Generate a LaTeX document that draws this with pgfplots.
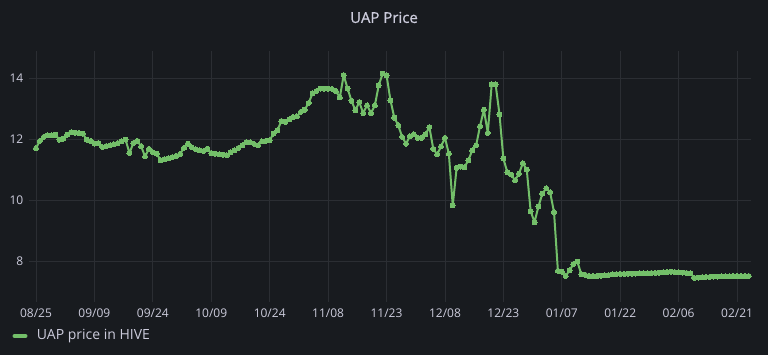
\documentclass[border=0pt]{standalone}
\usepackage{fontspec}
\setmainfont{Open Sans}
\newfontfamily\titlefont{Open Sans}[FakeBold=0.8]
\usepackage{pgfplots}
\pgfplotsset{compat=1.18}
\definecolor{bg}{HTML}{181B1F}
\definecolor{gridc}{HTML}{2B2E33}
\definecolor{txt}{HTML}{CCCCDC}
\definecolor{grn}{HTML}{73BF69}
\begin{document}
\begin{tikzpicture}
\fill[bg] (0pt,0pt) rectangle (768pt,355pt);
\node[txt, font=\titlefont\fontsize{15}{16}\selectfont] at (384pt,337.5pt) {UAP Price};
\begin{axis}[
  at={(29.3pt,53pt)}, anchor=south west, scale only axis,
  width=721.4pt, height=251pt,
  xmin=-1.72, xmax=183.5, ymin=6.68, ymax=14.89,
  axis line style={draw=none}, tick style={draw=none},
  grid=major, grid style={gridc, line width=0.8pt},
  xtick={0,15,...,180},
  xticklabels={08/25,09/09,09/24,10/09,10/24,11/08,11/23,12/08,12/23,01/07,01/22,02/06,02/21},
  ytick={8,10,12,14},
  /pgf/number format/assume math mode=true,
  tick label style={text=txt, font=\fontsize{12}{14}\selectfont},
  yticklabel style={anchor=east, inner sep=0pt, xshift=-5.8pt},
  xticklabel style={anchor=north, inner sep=0pt, yshift=-6.5pt},
]
\addplot[grn, line width=2pt, line join=round, mark=*, mark size=2.5pt, mark options={draw=grn, fill=grn, line width=0pt}] table {
x y
0 11.71
1 11.95
2 12.08
3 12.13
4 12.13
5 12.15
6 11.99
7 12.02
8 12.15
9 12.23
10 12.22
11 12.21
12 12.19
13 11.99
14 11.95
15 11.86
16 11.88
17 11.75
18 11.78
19 11.80
20 11.84
21 11.88
22 11.93
23 11.99
24 11.55
25 11.88
26 11.95
27 11.77
28 11.44
29 11.69
30 11.58
31 11.53
32 11.31
33 11.35
34 11.38
35 11.42
36 11.46
37 11.52
38 11.72
39 11.86
40 11.74
41 11.68
42 11.64
43 11.62
44 11.69
45 11.55
46 11.53
47 11.51
48 11.50
49 11.48
50 11.58
51 11.64
52 11.72
53 11.80
54 11.91
55 11.90
56 11.85
57 11.80
58 11.93
59 11.95
60 11.97
61 12.19
62 12.30
63 12.60
64 12.57
65 12.65
66 12.73
67 12.75
68 12.90
69 12.97
70 13.19
71 13.50
72 13.58
73 13.66
74 13.66
75 13.66
76 13.65
77 13.58
78 13.37
79 14.10
80 13.66
81 13.26
82 12.95
83 13.22
84 12.86
85 13.11
86 12.86
87 13.11
88 13.77
89 14.15
90 14.10
91 13.28
92 12.71
93 12.46
94 12.08
95 11.86
96 12.10
97 12.16
98 12.05
99 12.05
100 12.16
101 12.40
102 11.69
103 11.51
104 11.77
105 12.05
106 11.53
107 9.84
108 11.07
109 11.11
110 11.09
111 11.31
112 11.64
113 11.80
114 12.43
115 12.97
116 12.21
117 13.80
118 13.80
119 12.82
120 11.37
121 10.93
122 10.85
123 10.66
124 10.88
125 11.22
126 11.01
127 9.65
128 9.29
129 9.80
130 10.22
131 10.40
132 10.27
133 9.62
134 7.70
135 7.67
136 7.53
137 7.72
138 7.92
139 8.00
140 7.59
141 7.57
142 7.53
143 7.53
144 7.53
145 7.54
146 7.55
147 7.56
148 7.58
149 7.59
150 7.60
151 7.60
152 7.61
153 7.61
154 7.61
155 7.62
156 7.62
157 7.62
158 7.63
159 7.63
160 7.64
161 7.65
162 7.66
163 7.67
164 7.66
165 7.65
166 7.64
167 7.63
168 7.62
169 7.47
170 7.48
171 7.49
172 7.50
173 7.50
174 7.51
175 7.51
176 7.52
177 7.52
178 7.52
179 7.53
180 7.53
181 7.53
182 7.53
183 7.53
};
\end{axis}
\draw[grn, line width=4pt, line cap=round] (14.5pt,19pt) -- (25.5pt,19pt);
\node[anchor=west, inner sep=0pt, text=txt, font=\fontsize{14}{16}\selectfont] at (36.7pt,18.5pt) {UAP price in HIVE};
\pgfresetboundingbox
\useasboundingbox (0pt,0pt) rectangle (768pt,355pt);
\end{tikzpicture}
\end{document}
